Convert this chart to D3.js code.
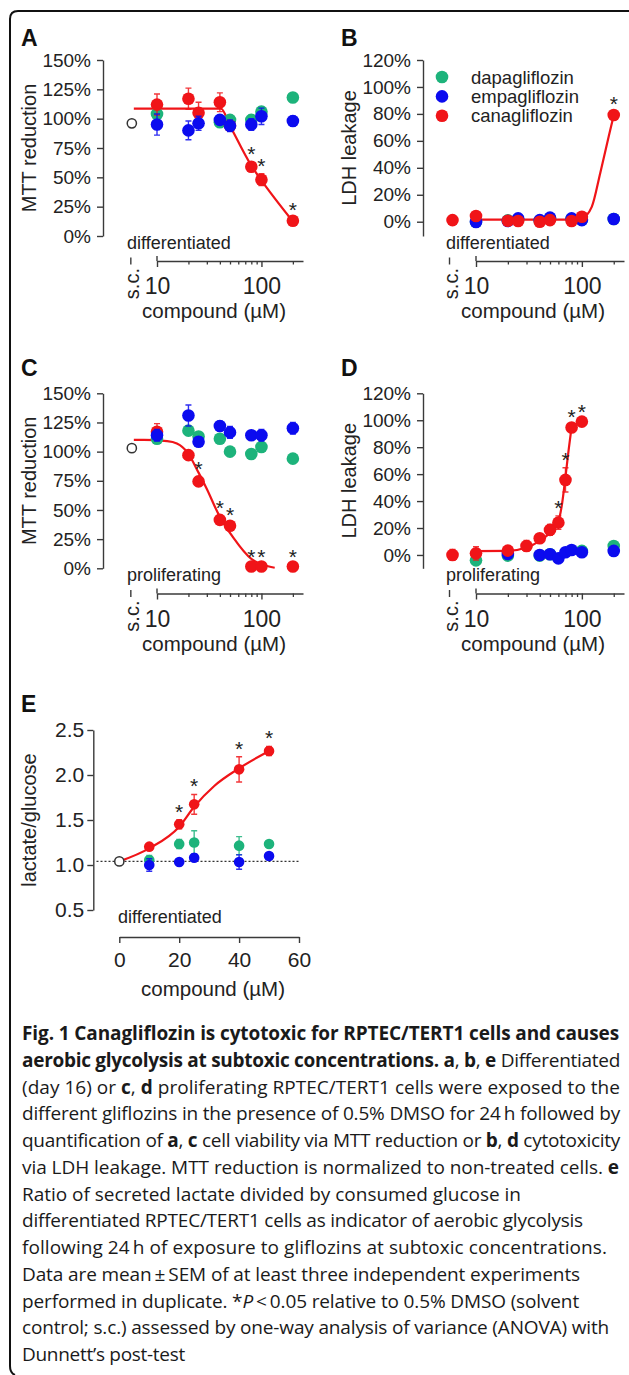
<!DOCTYPE html>
<html>
<head>
<meta charset="utf-8">
<script src="https://cdn.jsdelivr.net/npm/d3@7"></script>
<style>
  body { margin: 0; background: #fff; }
  svg { display: block; }
</style>
</head>
<body>
<script>
// ---- data ----
const conc = [10, 20, 25, 40, 50, 80, 100, 200];
const concD = [10, 20, 30, 40, 50, 60, 70, 80, 100, 200];
const concE = [10, 20, 25, 40, 50];
const drugs = ["dapagliflozin", "empagliflozin", "canagliflozin"];
const drugColors = ["#1db37b", "#0b0bef", "#f01418"];

// A: MTT reduction (%), differentiated
const aDapa = [104, null, null, 97, 99, 99, 106, 118];
const aDapaErr = [3, 0, 0, 4, 3, 4, 4, 4];
const aEmpa = [95, 90, 96, 99, 94, 95, 102, 98];
const aEmpaErr = [9, 8, 6, 3, 5, 5, 7, 4];
const aCana = [112, 117, 105, 114, 94, 59, 48, 13];
const aCanaErr = [9, 9, 9, 8, 3, 4, 5, 2];
const aSolvent = 96;
const aStars = [80, 100, 200];
const aFit = [[6, 108.5], [41, 108.5], [50, 94], [80, 60], [100, 47.5], [200, 12.5]];

// B: LDH leakage (%), differentiated
const bDapa = [0, 1, 1.5, 0.5, 2.5, 2, 1.5, 2];
const bEmpa = [-0.2, 0.5, 2.5, 1.2, 3, 2.5, 1.2, 2];
const bCana = [4.2, 0.7, 0.5, 0, 1.2, 0.5, 3.7, 79.2];
const bCanaErr = [1.5, 0.5, 0.5, 0.5, 1, 0.5, 1, 2];
const bSolvent = 1.2;
const bStars = [200];
const bFit = [[10, 1.6], [80, 1.6], [100, 2.6], [124, 11], [149, 36], [179, 63], [200, 79]];

// C: MTT reduction (%), proliferating
const cDapa = [111, 118, 113, 111, 100, 98, 104, 94];
const cDapaErr = [3, 2, 2, 2, 2, 2, 3, 4];
const cEmpa = [114, 131, 108.5, 122, 116.5, 114, 114, 120];
const cEmpaErr = [5, 9, 4, 4, 5, 2, 5, 5];
const cCana = [117, 97, 74.5, 41.5, 36.5, 1.5, 1.5, 1.5];
const cCanaErr = [7, 3, 4, 3, 2, 1, 1, 1];
const cSolvent = 103;
const cStars = [25, 40, 50, 80, 100, 200];
const cFit = [[6, 110], [7.5, 110], [12.5, 109], [15.5, 107], [19.7, 99], [25, 82], [30, 68],
              [39, 46], [54, 26], [80, 8], [104, 3], [134, 0.5]];

// D: LDH leakage (%), proliferating
const dDapa = [-4, -0.5, null, -0.5, 0.5, null, null, null, 3, 6.7];
const dDapaErr = [2, 1, 0, 1, 1, 0, 0, 0, 1, 1.5];
const dEmpa = [null, 0.7, null, 0, 0.5, -2.5, 2, 3.7, 2, 3];
const dEmpaErr = [0, 1, 0, 1, 1, 1.5, 1, 1, 1, 1.5];
const dCana = [1.2, 3.2, 6.7, 12.4, 18.6, 24, 55.7, 94.6, 99, null];
const dCanaErr = [5, 1.5, 4, 2.5, 4, 5, 9, 2, 1.5, 0];
const dSolvent = 0;
const dSolventErr = 4;
const dStars = [60, 70, 80, 100];
const dFit = [[10, 2.8], [20, 3], [30, 5.5], [40, 10.5], [50, 16.5], [60, 25], [65, 38], [70, 58], [75, 78], [80, 95]];

// E: lactate/glucose, differentiated
const eDapa = [1.055, 1.233, 1.25, 1.215, 1.233];
const eDapaErr = [0.05, 0.05, 0.13, 0.1, 0.02];
const eEmpa = [1.0, 1.033, 1.08, 1.033, 1.1];
const eEmpaErr = [0.07, 0.01, 0.04, 0.08, 0.02];
const eCana = [1.204, 1.452, 1.674, 2.063, 2.267];
const eCanaErr = [0.02, 0.05, 0.11, 0.14, 0.05];
const eSolvent = 1.04;
const eStars = [20, 25, 40, 50];
const eFit = [[0, 1.04], [10, 1.185], [20, 1.426], [25, 1.648], [31.7, 1.878], [40, 2.074], [50, 2.267]];

const pctTicks = [0, 25, 50, 75, 100, 125, 150];
const ldhTicks = [0, 20, 40, 60, 80, 100, 120];
const ratioTicks = [0.5, 1.0, 1.5, 2.0, 2.5];
const eXTicks = [0, 20, 40, 60];
const logMajor = [10, 100];
const logMinor = [20, 30, 40, 50, 60, 70, 80, 90, 200];
const scConc = 6; // where the solvent control sits on the log axis

const captionLines = [
  [["Fig. 1 Canagliflozin is cytotoxic for RPTEC/TERT1 cells and causes", "b"]],
  [["aerobic glycolysis at subtoxic concentrations. ", "b"], ["a", "b"], [", ", ""], ["b", "b"], [", ", ""], ["e", "b"], [" Differentiated", ""]],
  [["(day 16) or ", ""], ["c", "b"], [", ", ""], ["d", "b"], [" proliferating RPTEC/TERT1 cells were exposed to the", ""]],
  [["different gliflozins in the presence of 0.5% DMSO for 24\u2009h followed by", ""]],
  [["quantification of ", ""], ["a", "b"], [", ", ""], ["c", "b"], [" cell viability via MTT reduction or ", ""], ["b", "b"], [", ", ""], ["d", "b"], [" cytotoxicity", ""]],
  [["via LDH leakage. MTT reduction is normalized to non-treated cells. ", ""], ["e", "b"]],
  [["Ratio of secreted lactate divided by consumed glucose in", ""]],
  [["differentiated RPTEC/TERT1 cells as indicator of aerobic glycolysis", ""]],
  [["following 24\u2009h of exposure to gliflozins at subtoxic concentrations.", ""]],
  [["Data are mean\u2009\u00b1\u2009SEM of at least three independent experiments", ""]],
  [["performed in duplicate. *", ""], ["P", "i"], ["\u2009<\u20090.05 relative to 0.5% DMSO (solvent", ""]],
  [["control; s.c.) assessed by one-way analysis of variance (ANOVA) with", ""]],
  [["Dunnett\u2019s post-test", ""]]
];
const captionEnds = [619, 620, 620, 620, 620, 619, 521, 583, 607, 580, 579, 609, 185];

// ---- drawing ----
const W = 629, H = 1375;
const font = '"Liberation Sans", Arial, sans-serif';
const ink = "#222", axisInk = "#3a3a3a";

const svg = d3.select("body").append("svg")
    .attr("width", W).attr("height", H);

// rounded frame (left and top edges visible)
svg.append("path")
    .attr("d", "M15,1375 Q10,1373 10,1366 L10,19 Q10,11 18,11 L629,11")
    .attr("fill", "none").attr("stroke", "#111").attr("stroke-width", 2);

function label(g, str, x, y, size, opts = {}) {
    const t = g.append("text")
        .attr("x", x).attr("y", y)
        .attr("font-family", font).attr("font-size", size)
        .attr("fill", opts.fill || ink)
        .attr("text-anchor", opts.anchor || "start")
        .text(str);
    if (opts.bold) t.attr("font-weight", "bold");
    if (opts.rotate) t.attr("transform", `rotate(-90,${x},${y})`);
    return t;
}

function styleAxis(ax, size) {
    ax.attr("font-family", font);
    ax.select(".domain").attr("stroke", axisInk).attr("stroke-width", 1.4);
    ax.selectAll(".tick line").attr("stroke", axisInk).attr("stroke-width", 1.4);
    ax.selectAll(".tick text").attr("fill", ink).attr("font-size", size);
}

function drawSeries(g, x, y, cs, vals, errs, color, r) {
    const pts = cs.map((c, i) => ({ c, v: vals[i], e: errs ? errs[i] : 0 }))
        .filter(d => d.v != null);
    g.append("g").selectAll("path")
        .data(pts.filter(d => d.e > 0))
        .join("path")
        .attr("d", d => {
            const xx = x(d.c), y1 = y(d.v - d.e), y2 = y(d.v + d.e);
            return `M${xx},${y1}V${y2}M${xx - 3},${y1}H${xx + 3}M${xx - 3},${y2}H${xx + 3}`;
        })
        .attr("stroke", color).attr("stroke-width", 1.4).attr("fill", "none")
        .attr("opacity", 0.85);
    g.append("g").selectAll("circle")
        .data(pts)
        .join("circle")
        .attr("cx", d => x(d.c)).attr("cy", d => y(d.v))
        .attr("r", r).attr("fill", color);
}

function drawFit(g, x, y, pts) {
    g.append("path")
        .datum(pts)
        .attr("d", d3.line().x(d => x(d[0])).y(d => y(d[1])).curve(d3.curveMonotoneX))
        .attr("fill", "none").attr("stroke", drugColors[2]).attr("stroke-width", 2.2);
}

function drawStars(g, x, y, cs, vals, errs, starConc) {
    starConc.forEach(c => {
        const i = cs.indexOf(c);
        const top = vals[i] + (errs ? errs[i] : 0);
        label(g, "*", x(c), y(top) - 1, 21, { anchor: "middle" });
    });
}

function logXAxis(g, x, yPos) {
    const ax = g.append("g").attr("transform", `translate(0,${yPos})`);
    ax.call(d3.axisBottom(x).tickValues(logMajor).tickFormat(d3.format("d"))
        .tickSize(6).tickSizeOuter(0));
    styleAxis(ax, 23);
    ax.selectAll(".tick text").attr("y", 33).attr("dy", 0);
    const minor = ax.append("g").call(d3.axisBottom(x).tickValues(logMinor)
        .tickFormat("").tickSize(3.5).tickSizeOuter(0));
    minor.select(".domain").remove();
    minor.selectAll(".tick line").attr("stroke", axisInk).attr("stroke-width", 1.3);
    ax.append("line").attr("x1", x(10)).attr("x2", x(10)).attr("y1", -5).attr("y2", 0)
        .attr("stroke", axisInk).attr("stroke-width", 1.4);
    // solvent control stub: tiny one-tick axis with rotated label
    const sx = x(scConc) - 3;
    ax.append("line").attr("x1", sx).attr("x2", sx).attr("y1", -3.5).attr("y2", 3.5)
        .attr("stroke", axisInk).attr("stroke-width", 1.4);
    label(g, "s.c.", sx + 8, yPos + 7, 20, { anchor: "end", rotate: true });
}

function yAxis(g, y, xPos, ticks, fmt, size, pad) {
    const ax = g.append("g").attr("transform", `translate(${xPos},0)`);
    ax.call(d3.axisLeft(y).tickValues(ticks).tickFormat(fmt)
        .tickSize(6).tickPadding(pad).tickSizeOuter(0));
    styleAxis(ax, size);
    return ax;
}

const pct = d => d + "%";

// generic log-dose panel
function logPanel(p) {
    const g = svg.append("g");
    const x = d3.scaleLog().domain([10, 250]).range(p.xRange);
    const y = d3.scaleLinear().domain(p.yDomain).range(p.yRange);
    yAxis(g, y, p.xRange[0] - p.yGap, p.yTicks, pct, 19, 6);
    logXAxis(g, x, p.xAxisY);
    label(g, p.letter, p.xRange[0] - p.yGap - 82, p.letterY, 23, { bold: true, fill: "#111" });
    label(g, p.ytitle, p.xRange[0] - p.yGap - 67, (p.yRange[0] + p.yRange[1]) / 2, 20,
        { anchor: "middle", rotate: true });
    label(g, p.state, p.xRange[0] - 30, p.yRange[0] + 13, 18);
    label(g, "compound (\u00b5M)", p.xRange[0] + 57, p.xAxisY + 57, 20.5, { anchor: "middle" });

    const marks = g.append("g");
    drawFit(marks, x, y, p.fit);
    if (p.solventOpen != null) {
        marks.append("circle").attr("cx", x(scConc) - 2).attr("cy", y(p.solventOpen))
            .attr("r", 4.6).attr("fill", "#fff").attr("stroke", "#333").attr("stroke-width", 1.5);
    }
    p.order.forEach(k => {
        const s = p.series[k];
        drawSeries(marks, x, y, s.c, s.v, s.e, drugColors[k], 6.3);
    });
    if (p.solventRed != null) {
        drawSeries(marks, x, y, [scConc], [p.solventRed], [p.solventRedErr || 0], drugColors[2], 6.3);
    }
    drawStars(g, x, y, p.series[2].c, p.series[2].v, p.series[2].e, p.stars);
    return { g, x, y };
}

logPanel({
    letter: "A", letterY: 46, ytitle: "MTT reduction", state: "differentiated",
    xRange: [157, 303], yGap: 54, xAxisY: 261,
    yDomain: [0, 150], yRange: [236, 60], yTicks: pctTicks,
    fit: aFit, solventOpen: aSolvent, stars: aStars, order: [0, 2, 1],
    series: [
        { c: conc, v: aDapa, e: aDapaErr },
        { c: conc, v: aEmpa, e: aEmpaErr },
        { c: conc, v: aCana, e: aCanaErr }
    ]
});

logPanel({
    letter: "B", letterY: 46, ytitle: "LDH leakage", state: "differentiated",
    xRange: [476, 624], yGap: 53, xAxisY: 261,
    yDomain: [-10.6, 120], yRange: [236, 60], yTicks: ldhTicks,
    fit: bFit, solventRed: bSolvent, stars: bStars, order: [0, 1, 2],
    series: [
        { c: conc, v: bDapa, e: null },
        { c: conc, v: bEmpa, e: null },
        { c: conc, v: bCana, e: bCanaErr }
    ]
});

// legend (panel B)
const leg = svg.append("g");
drugs.forEach((name, i) => {
    const ly = 77 + i * 19.4;
    leg.append("circle").attr("cx", 442).attr("cy", ly).attr("r", 6.3).attr("fill", drugColors[i]);
    label(leg, name, 471, ly + 6.5, 18.5);
});

logPanel({
    letter: "C", letterY: 376, ytitle: "MTT reduction", state: "proliferating",
    xRange: [157, 303], yGap: 54, xAxisY: 593.5,
    yDomain: [0, 150], yRange: [568.3, 393.3], yTicks: pctTicks,
    fit: cFit, solventOpen: cSolvent, stars: cStars, order: [0, 2, 1],
    series: [
        { c: conc, v: cDapa, e: cDapaErr },
        { c: conc, v: cEmpa, e: cEmpaErr },
        { c: conc, v: cCana, e: cCanaErr }
    ]
});

logPanel({
    letter: "D", letterY: 376, ytitle: "LDH leakage", state: "proliferating",
    xRange: [476, 624], yGap: 53, xAxisY: 593.5,
    yDomain: [-9.9, 120], yRange: [568.3, 393.3], yTicks: ldhTicks,
    fit: dFit, solventRed: dSolvent, solventRedErr: dSolventErr, stars: dStars, order: [0, 1, 2],
    series: [
        { c: concD, v: dDapa, e: dDapaErr },
        { c: concD, v: dEmpa, e: dEmpaErr },
        { c: concD, v: dCana, e: dCanaErr }
    ]
});

// panel E (linear dose)
{
    const g = svg.append("g");
    const x = d3.scaleLinear().domain([0, 60]).range([119.3, 299]);
    const y = d3.scaleLinear().domain([0.5, 2.5]).range([910, 730]);
    yAxis(g, y, 93.3, ratioTicks, d3.format(".1f"), 21, 3);
    const ax = g.append("g").attr("transform", "translate(0,937)");
    ax.call(d3.axisBottom(x).tickValues(eXTicks).tickSize(6).tickPadding(8).tickSizeOuter(0));
    styleAxis(ax, 21);
    ax.selectAll(".tick text").attr("y", 30).attr("dy", 0);

    label(g, "E", 21, 712, 23, { bold: true, fill: "#111" });
    label(g, "lactate/glucose", 36, 820, 20, { anchor: "middle", rotate: true });
    label(g, "differentiated", 118, 923, 18);
    label(g, "compound (\u00b5M)", 213, 996, 20.5, { anchor: "middle" });

    // solvent baseline
    g.append("line")
        .attr("x1", 96.5).attr("x2", 300)
        .attr("y1", y(eSolvent)).attr("y2", y(eSolvent))
        .attr("stroke", "#333").attr("stroke-width", 1.2).attr("stroke-dasharray", "2,2");

    const marks = g.append("g");
    drawFit(marks, x, y, eFit);
    drawSeries(marks, x, y, concE, eDapa, eDapaErr, drugColors[0], 5.3);
    drawSeries(marks, x, y, concE, eEmpa, eEmpaErr, drugColors[1], 5.3);
    drawSeries(marks, x, y, concE, eCana, eCanaErr, drugColors[2], 5.3);
    marks.append("circle").attr("cx", x(0)).attr("cy", y(eSolvent))
        .attr("r", 4.6).attr("fill", "#fff").attr("stroke", "#333").attr("stroke-width", 1.5);
    drawStars(g, x, y, concE, eCana, eCanaErr, eStars);
}

// caption: fit each line to its measured width with letter spacing
const cap = svg.append("g")
    .attr("font-family", '"Open Sans", "Noto Sans", sans-serif')
    .attr("font-size", 19).attr("fill", "#1a1a1a");
captionLines.forEach((segs, i) => {
    const t = cap.append("text")
        .attr("x", 22).attr("y", 1040 + i * 26.75)
        .style("white-space", "pre");
    segs.forEach(([str, st]) => {
        const ts = t.append("tspan").text(str);
        if (st === "b") ts.attr("font-weight", "bold");
        if (st === "i") ts.attr("font-style", "italic");
    });
    const n = segs.reduce((s, d) => s + d[0].length, 0);
    const w = t.node().getComputedTextLength();
    const target = captionEnds[i] - 22;
    t.attr("letter-spacing", ((target - w) / n).toFixed(3));
});
</script>
</body>
</html>
